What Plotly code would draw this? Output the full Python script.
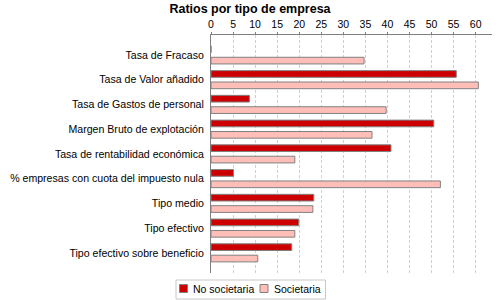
import plotly.graph_objects as go

categorias = [
    "Tasa de Fracaso",
    "Tasa de Valor añadido",
    "Tasa de Gastos de personal",
    "Margen Bruto de explotación",
    "Tasa de rentabilidad económica",
    "% empresas con cuota del impuesto nula",
    "Tipo medio",
    "Tipo efectivo",
    "Tipo efectivo sobre beneficio",
]
no_societaria = [0, 55.6, 8.7, 50.5, 40.8, 5.1, 23.3, 19.9, 18.3]
societaria = [34.7, 60.6, 39.7, 36.5, 19.0, 52.0, 23.1, 19.0, 10.6]
ticks_x = [0, 5, 10, 15, 20, 25, 30, 35, 40, 45, 50, 55, 60]

ROJO = "#CC0000"
ROSA = "#FFBFB8"
GRIS = "#808080"
borde = dict(color=GRIS, width=1)

# area del grafico en pixeles (izq, der, arriba, abajo)
L, R, T, B = 211, 492, 35, 273


def px_x(p):
    return (p - L) / (R - L)


def px_y(p):
    return (B - p) / (B - T)


fig = go.Figure()
fig.add_trace(go.Bar(y=categorias, x=no_societaria, orientation="h", name="No societaria",
                     marker=dict(color=ROJO, line=borde), width=0.27, offset=-0.37))
fig.add_trace(go.Bar(y=categorias, x=societaria, orientation="h", name="Societaria",
                     marker=dict(color=ROSA, line=borde), width=0.27, offset=0.09))

# leyenda dibujada a mano, la de plotly sale demasiado ancha
fig.add_shape(type="rect", xref="paper", yref="paper", x0=px_x(176), x1=px_x(325.5),
              y0=px_y(299), y1=px_y(280), line=dict(color="#c8c8c8", width=1), fillcolor="white")
for sx, tx, color, nombre in [(179.5, 191, ROJO, "No societaria"), (260, 271.5, ROSA, "Societaria")]:
    fig.add_shape(type="rect", xref="paper", yref="paper", x0=px_x(sx), x1=px_x(sx + 8),
                  y0=px_y(292.5), y1=px_y(284.5), line=borde, fillcolor=color)
    fig.add_annotation(text=nombre, xref="paper", yref="paper", x=px_x(tx), y=px_y(289),
                       xanchor="left", yanchor="middle", showarrow=False, font=dict(size=10.5))

fig.update_layout(
    width=500, height=300,
    barmode="overlay",
    paper_bgcolor="white", plot_bgcolor="white",
    margin=dict(l=L, r=500 - R, t=T, b=300 - B, autoexpand=False),
    font=dict(family="Liberation Sans, Arial, sans-serif", size=10, color="black"),
    title=dict(text="<b>Ratios por tipo de empresa</b>", xref="container", x=0.5, xanchor="center",
               y=0.985, yanchor="top", font=dict(size=12.5)),
    showlegend=False,
)
fig.update_xaxes(side="top", range=[0, 63.7], tickvals=ticks_x, showgrid=True,
                 gridcolor="#d0d0d0", griddash="3px,2px", gridwidth=1,
                 showline=True, linecolor=GRIS, linewidth=1, automargin=False,
                 ticks="outside", ticklen=2, tickcolor=GRIS, zeroline=False,
                 tickfont=dict(size=10.5))
fig.update_yaxes(range=[8.81, -0.81], showline=True, linecolor=GRIS, linewidth=1,
                 showgrid=False, ticks="", ticklabelstandoff=4, automargin=False,
                 tickfont=dict(size=10.6))

# la pagina trae margen de 8px en el body
fig.write_html("out.html", config={"displayModeBar": False},
               post_script="document.body.style.margin='0';")
